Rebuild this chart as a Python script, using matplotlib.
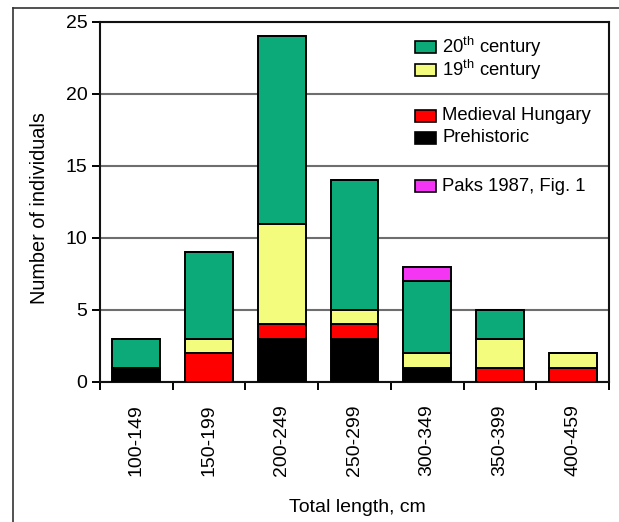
import matplotlib
matplotlib.use("Agg")
import matplotlib.pyplot as plt
import numpy as np
from matplotlib.patches import Rectangle
from matplotlib.lines import Line2D

plt.rcParams['font.family'] = ['Liberation Sans', 'DejaVu Sans']
plt.rcParams['mathtext.fontset'] = 'custom'
plt.rcParams['mathtext.rm'] = 'Liberation Sans'
plt.rcParams['mathtext.it'] = 'Liberation Sans'

categories = ['100-149', '150-199', '200-249', '250-299', '300-349', '350-399', '400-459']
prehistoric = [1, 0, 3, 3, 1, 0, 0]
medieval_hungary = [0, 2, 1, 1, 0, 1, 1]
century_19 = [0, 1, 7, 1, 1, 2, 1]
century_20 = [2, 6, 13, 9, 5, 2, 0]
paks_1987 = [0, 0, 0, 0, 1, 0, 0]

series = [
    ('Prehistoric', prehistoric, '#000000'),
    ('Medieval Hungary', medieval_hungary, '#ff0000'),
    ('19$^{\\mathrm{th}}$ century', century_19, '#f4fc7e'),
    ('20$^{\\mathrm{th}}$ century', century_20, '#0caa78'),
    ('Paks 1987, Fig. 1', paks_1987, '#f436f4'),
]

fig = plt.figure(figsize=(6.19, 5.22), dpi=100)
ax = fig.add_axes([100 / 619, 1 - 382 / 522, 509 / 619, 360 / 522])

x = np.arange(len(categories))
bottom = np.zeros(len(categories))
for name, vals, color in series:
    vals = np.array(vals, dtype=float)
    ax.bar(x, vals, bottom=bottom, width=0.66, color=color,
           edgecolor='#000000', linewidth=1.4, zorder=3)
    bottom += vals

ax.set_xlim(-0.5, len(categories) - 0.5)
ax.set_ylim(0, 25)
ax.set_yticks([0, 5, 10, 15, 20, 25])
ax.yaxis.grid(True, color='#6e6e6e', linewidth=1.5, zorder=0)
ax.set_axisbelow(True)

ax.set_xticks(x)
ax.set_xticklabels(categories, rotation=90, fontsize=14, va='top')
ax.tick_params(axis='x', which='major', length=0, pad=16)
ax.set_xticks(np.arange(-0.5, len(categories)), minor=True)
ax.tick_params(axis='x', which='minor', length=6, width=1.4, color='#000000', direction='out')
ax.tick_params(axis='y', length=6, width=1.4, labelsize=14, pad=3, direction='out')

for s in ax.spines.values():
    s.set_linewidth(1.5)
    s.set_color('#111111')

# legend blocks placed between the grid lines
legend_items = [
    (series[3], 23.25),
    (series[2], 21.65),
    (series[1], 18.5),
    (series[0], 16.95),
    (series[4], 13.6),
]
for (name, _, color), yc in legend_items:
    ax.add_patch(Rectangle((3.83, yc - 0.42), 0.29, 0.84, facecolor=color,
                           edgecolor='#000000', linewidth=1.2, zorder=4))
    ax.text(4.21, yc, name, fontsize=13.3, va='center', ha='left', zorder=4)

fig.text(40 / 619, 1 - 208 / 522, 'Number of individuals', rotation=90,
         ha='center', va='center', fontsize=14.3)
fig.text(357 / 619, 1 - 507 / 522, 'Total length, cm', ha='center', va='center', fontsize=14)

# outer frame lines
fig.add_artist(Line2D([13 / 619, 1], [1 - 8 / 522, 1 - 8 / 522], color='#333333', linewidth=1.2,
                      transform=fig.transFigure))
fig.add_artist(Line2D([13 / 619, 13 / 619], [0, 1 - 8 / 522], color='#333333', linewidth=1.2,
                      transform=fig.transFigure))

fig.savefig('out.png', dpi=100)
